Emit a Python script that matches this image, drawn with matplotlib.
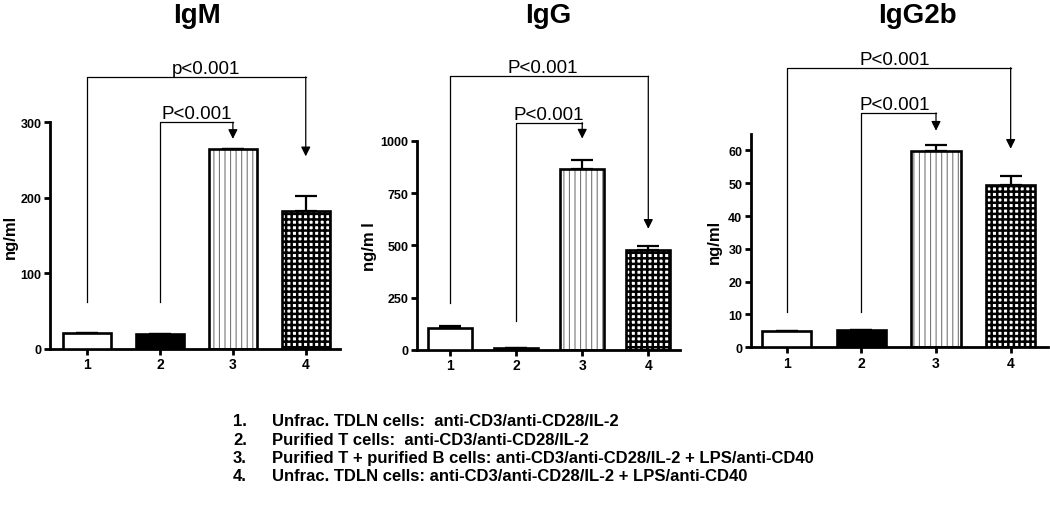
import matplotlib
matplotlib.use("Agg")
import matplotlib.pyplot as plt
import numpy as np

plt.rcParams['font.family'] = ['Liberation Sans', 'DejaVu Sans']

groups = ["1", "2", "3", "4"]
titles = ["IgM", "IgG", "IgG2b"]
igm_vals = [21, 20, 265, 183]
igm_err = [0, 0, 0, 19]
igg_vals = [105, 8, 866, 480]
igg_err = [8, 0, 44, 19]
igg2b_vals = [5.1, 5.2, 59.8, 49.6]
igg2b_err = [0, 0, 1.9, 2.7]
legend_lines = [
    "Unfrac. TDLN cells:  anti-CD3/anti-CD28/IL-2",
    "Purified T cells:  anti-CD3/anti-CD28/IL-2",
    "Purified T + purified B cells: anti-CD3/anti-CD28/IL-2 + LPS/anti-CD40",
    "Unfrac. TDLN cells: anti-CD3/anti-CD28/IL-2 + LPS/anti-CD40",
]
p_outer = ["p<0.001", "P<0.001", "P<0.001"]
p_inner = ["P<0.001", "P<0.001", "P<0.001"]

W, H = 1050, 506
fig = plt.figure(figsize=(W / 100, H / 100), dpi=100)

def frac(x0, x1, ybot, ytop):
    return [x0 / W, 1 - ybot / H, (x1 - x0) / W, (ybot - ytop) / H]

panels = [
    dict(rect=frac(50, 340, 350, 123.3), vals=igm_vals, err=igm_err, ylim=(0, 300),
         yticks=[0, 100, 200, 300], xlim=(0.49, 4.47), ylab_x=-0.112,
         outer=(360, 62, 255), inner=(300, 62, 278), title_x=197, ylabel="ng/ml",
         otx=2.63, itx=2.5),
    dict(rect=frac(416.7, 680, 351, 141.7), vals=igg_vals, err=igg_err, ylim=(0, 1000),
         yticks=[0, 250, 500, 750, 1000], xlim=(0.495, 4.48), ylab_x=-0.15,
         outer=(1308, 225, 579), inner=(1086, 140, 1010), title_x=548, ylabel="ng/m l",
         otx=2.4, itx=2.5),
    dict(rect=frac(750.7, 1048, 348.3, 135), vals=igg2b_vals, err=igg2b_err, ylim=(0, 65),
         yticks=[0, 10, 20, 30, 40, 50, 60], xlim=(0.518, 4.5), ylab_x=-0.096,
         outer=(85.2, 10.7, 60.5), inner=(71.4, 10.7, 66), title_x=917, ylabel="ng/ml",
         otx=2.45, itx=2.45),
]

x = np.arange(1, 5)
bw = 0.66
lw_edge = 1.9

for i, p in enumerate(panels):
    ax = fig.add_axes(p['rect'])
    vals = p['vals']
    err = p['err']
    with plt.rc_context({'hatch.linewidth': 0.8}):
        ax.bar(x[2], vals[2], bw, facecolor='white', edgecolor='#777777',
               hatch='|||', linewidth=0, zorder=2)
    with plt.rc_context({'hatch.linewidth': 1.8}):
        ax.bar(x[3], vals[3], bw, facecolor='white', edgecolor='black',
               hatch='+++', linewidth=0, zorder=2)
    faces = ['white', 'black', 'none', 'none']
    ax.bar(x, vals, bw, facecolor=faces, edgecolor='black', linewidth=lw_edge, zorder=3)
    lower = [0] * 4
    ax.errorbar(x, vals, yerr=[lower, err], fmt='none', ecolor='black',
                elinewidth=1.6, capsize=8, capthick=1.6, zorder=1)
    ax.set_xlim(*p['xlim'])
    ax.set_ylim(*p['ylim'])
    ax.set_yticks(p['yticks'])
    ax.set_xticks(x)
    ax.set_xticklabels(groups, fontweight='bold', fontsize=10)
    for lab in ax.get_yticklabels():
        lab.set_fontweight('bold')
        lab.set_fontsize(9)
    for s in ['top', 'right']:
        ax.spines[s].set_visible(False)
    for s in ['left', 'bottom']:
        ax.spines[s].set_linewidth(2)
    ax.tick_params(axis='both', width=2, length=4, pad=2)
    ax.patch.set_alpha(0)
    ax.set_ylabel(p['ylabel'], fontweight='bold', fontsize=12)
    ax.yaxis.set_label_coords(p['ylab_x'], 0.5)

    oy, ostart, otip = p['outer']
    iy, istart, itip = p['inner']
    ax.plot([1, 1, 4], [ostart, oy, oy], color='black', lw=0.9, clip_on=False)
    ax.annotate('', xy=(4, otip), xytext=(4, oy),
                arrowprops=dict(arrowstyle='-|>', color='black', lw=0.9,
                                mutation_scale=14, shrinkA=0, shrinkB=0),
                annotation_clip=False)
    ax.plot([2, 2, 3], [istart, iy, iy], color='black', lw=0.9, clip_on=False)
    ax.annotate('', xy=(3, itip), xytext=(3, iy),
                arrowprops=dict(arrowstyle='-|>', color='black', lw=0.9,
                                mutation_scale=14, shrinkA=0, shrinkB=0),
                annotation_clip=False)
    ax.text(p['otx'], oy, p_outer[i], ha='center', va='bottom', fontsize=13.5)
    ax.text(p['itx'], iy, p_inner[i], ha='center', va='bottom', fontsize=13.5)

    fig.text(p['title_x'] / W, 1 - 16 / H, titles[i], ha='center', va='center',
             fontsize=20, fontweight='bold')

ys = [422, 441, 459, 477]
for k, (yy, line) in enumerate(zip(ys, legend_lines)):
    fig.text(233 / W, 1 - yy / H, f"{k + 1}.", ha='left', va='center',
             fontsize=12, fontweight='bold')
    fig.text(272 / W, 1 - yy / H, line, ha='left', va='center',
             fontsize=12, fontweight='bold')

fig.savefig('out.png', dpi=100)
